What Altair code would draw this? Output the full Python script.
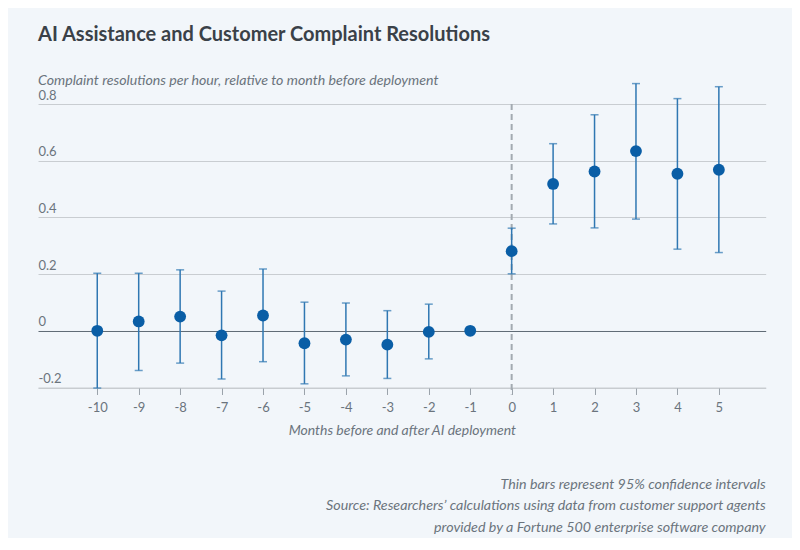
import altair as alt
import pandas as pd

months = [-10, -9, -8, -7, -6, -5, -4, -3, -2, -1, 0, 1, 2, 3, 4, 5]
estimate = [0.000, 0.033, 0.050, -0.016, 0.054, -0.044, -0.031, -0.049, -0.004, 0.000,
            0.281, 0.518, 0.562, 0.634, 0.554, 0.568]
ci_low = [-0.202, -0.140, -0.114, -0.170, -0.109, -0.187, -0.159, -0.168, -0.099, None,
          0.201, 0.377, 0.363, 0.394, 0.288, 0.276]
ci_high = [0.203, 0.203, 0.215, 0.140, 0.218, 0.101, 0.098, 0.071, 0.094, None,
           0.362, 0.660, 0.762, 0.872, 0.819, 0.861]

y_ticks = [-0.2, 0, 0.2, 0.4, 0.6, 0.8]
x_ticks = months

title_text = "AI Assistance and Customer Complaint Resolutions"
subtitle_text = "Complaint resolutions per hour, relative to month before deployment"
x_title = "Months before and after AI deployment"
notes = [
    "Thin bars represent 95% confidence intervals",
    "Source: Researchers\u2019 calculations using data from customer support agents",
    "provided by a Fortune 500 enterprise software company",
]

df = pd.DataFrame({"month": months, "est": estimate, "lo": ci_low, "hi": ci_high})

W = 727.7
H = 283.5
FONT = "Lato"
GRAY = "#6b747d"

xs = alt.Scale(domain=[-11.43, 6.13], nice=False, zero=False)
ys = alt.Scale(domain=[-0.2, 0.8], nice=False, zero=False)

x_axis = alt.Axis(values=x_ticks, labelExpr="toString(datum.value)", grid=False,
                  ticks=True, tickSize=7, tickColor="#9aa2aa", tickWidth=1,
                  domain=True, domainColor="#c9cdd1", domainWidth=1,
                  labelColor=GRAY, labelFontSize=13, labelFont=FONT, labelPadding=7,
                  labelFlush=False,
                  title=x_title, titleFont=FONT, titleFontSize=14, titleFontStyle="italic",
                  titleFontWeight="normal", titleColor=GRAY, titlePadding=9)

y_axis = alt.Axis(values=y_ticks, labelExpr="toString(datum.value)",
                  grid=True,
                  gridColor={"condition": {"test": "datum.value === 0", "value": "#5f6a74"},
                             "value": "#c9cdd1"},
                  gridWidth=1,
                  ticks=False, domain=False,
                  labelAlign="left", labelBaseline="bottom", labelPadding=0, labelOffset=-2,
                  labelColor=GRAY, labelFontSize=13, labelFont=FONT, labelFlush=False,
                  title=None)

base = alt.Chart(df)

grid = base.mark_point(opacity=0).encode(
    x=alt.X("month:Q", scale=xs, axis=x_axis),
    y=alt.Y("est:Q", scale=ys, axis=y_axis),
)

dash = alt.Chart(pd.DataFrame({"x": [0], "y": [0.8]})).mark_rule(
    color="#a3aab1", strokeDash=[6, 4], strokeWidth=2
).encode(
    x=alt.X("x:Q", scale=xs),
    y=alt.Y("y:Q", scale=ys),
    y2=alt.value(H + 7),
)

bars = base.mark_rule(color="#2f77b2", strokeWidth=1.5).encode(
    x=alt.X("month:Q", scale=xs),
    y=alt.Y("lo:Q", scale=ys),
    y2="hi:Q",
)

cap_lo = base.mark_tick(color="#2f77b2", thickness=1.5, size=8, orient="horizontal").encode(
    x=alt.X("month:Q", scale=xs),
    y=alt.Y("lo:Q", scale=ys),
)
cap_hi = base.mark_tick(color="#2f77b2", thickness=1.5, size=8, orient="horizontal").encode(
    x=alt.X("month:Q", scale=xs),
    y=alt.Y("hi:Q", scale=ys),
)

points = base.mark_circle(color="#0a5ea6", opacity=1, size=140).encode(
    x=alt.X("month:Q", scale=xs),
    y=alt.Y("est:Q", scale=ys),
)

foot = alt.Chart(pd.DataFrame({"k": [1]})).mark_text(
    text=notes, align="right", baseline="alphabetic", font=FONT, fontSize=14.3,
    fontStyle="italic", color=GRAY, lineHeight=21.5
).encode(x=alt.value(W), y=alt.value(385))

chart = alt.layer(grid, dash, bars, cap_lo, cap_hi, points, foot).properties(
    width=W, height=H,
    title=alt.TitleParams(
        text=title_text, subtitle=subtitle_text, anchor="start", frame="group",
        font=FONT, fontSize=20, fontWeight="bold", color="#3a4148",
        subtitleFont=FONT, subtitleFontSize=14.2, subtitleFontStyle="italic",
        subtitleColor=GRAY, subtitlePadding=29, offset=-5,
    ),
    background="#f2f6fa",
    padding={"left": 30, "top": 96, "right": 26, "bottom": 150},
    autosize=alt.AutoSizeParams(type="none"),
).configure_view(stroke=None)

chart.save("out.html", embed_options={"renderer": "svg", "actions": False})
